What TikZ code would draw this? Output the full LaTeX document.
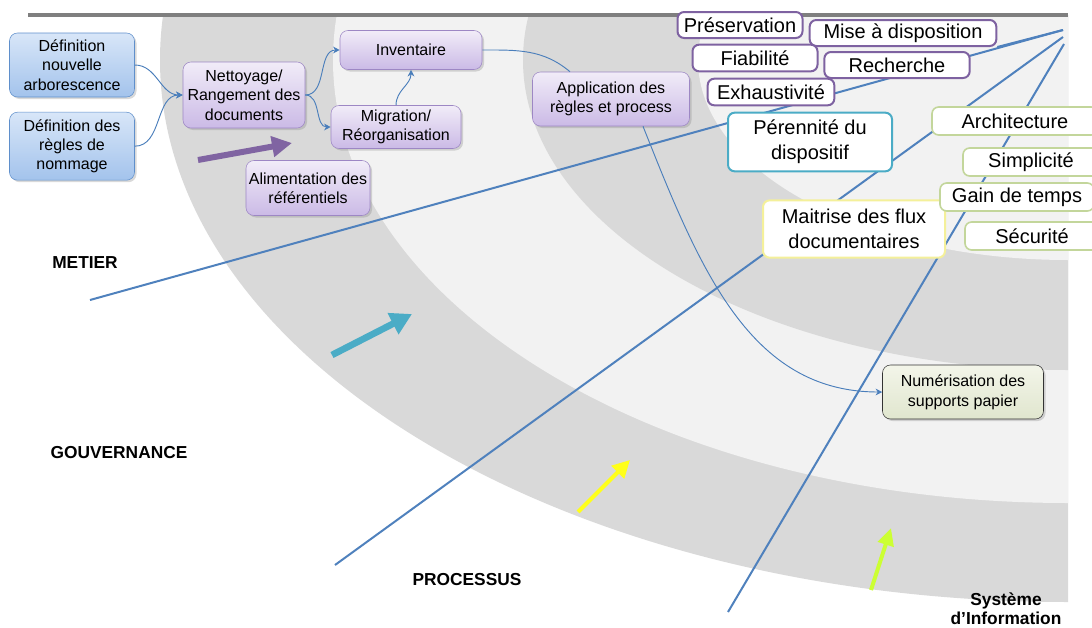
\documentclass[tikz,border=0pt]{standalone}
\usepackage{fontspec}
\setmainfont{Liberation Sans}
\usepackage{xcolor}
\usepackage{tikz}
\usetikzlibrary{positioning,calc}
\usetikzlibrary{shadows,arrows.meta}

\definecolor{bandDark}{HTML}{D9D9D9}
\definecolor{bandLight}{HTML}{F2F2F2}
\definecolor{topGrey}{HTML}{7F7F7F}
\definecolor{axisBlue}{HTML}{4F81BD}
\definecolor{linkBlue}{HTML}{4A7EBB}
\definecolor{blueTop}{HTML}{D8E6F8}
\definecolor{blueBottom}{HTML}{A3C3EC}
\definecolor{blueBorder}{HTML}{5F8FCB}
\definecolor{procTop}{HTML}{F1ECF8}
\definecolor{procBottom}{HTML}{CBBAE6}
\definecolor{procBorder}{HTML}{9D87C4}
\definecolor{numTop}{HTML}{F3F5E9}
\definecolor{numBottom}{HTML}{E0E6CE}
\definecolor{qualPurple}{HTML}{7E62A1}
\definecolor{qualTeal}{HTML}{4BACC6}
\definecolor{qualYellow}{HTML}{F4F09A}
\definecolor{qualGreen}{HTML}{C3D69B}
\definecolor{arrPurple}{HTML}{8064A2}
\definecolor{arrCyan}{HTML}{4BACC6}
\definecolor{arrYellow}{HTML}{FFFF1A}
\definecolor{arrGreen}{HTML}{CCFF33}

\tikzstyle{bluebox} = [draw=blueBorder, rounded corners=6pt, top color=blueTop, bottom color=blueBottom, align=center, inner sep=1pt, font=\fontsize{12}{14.5}\selectfont, drop shadow={shadow xshift=1.5pt, shadow yshift=-1.5pt, opacity=0.3}]
\tikzstyle{procbox} = [draw=procBorder, rounded corners=6pt, top color=procTop, bottom color=procBottom, align=center, inner sep=1pt, font=\fontsize{12}{14.5}\selectfont, drop shadow={shadow xshift=1.5pt, shadow yshift=-1.5pt, opacity=0.3}]
\tikzstyle{qualbox} = [draw=qualPurple, line width=1.5pt, rounded corners=5pt, fill=white, align=center, inner sep=1pt, font=\fontsize{15}{19}\selectfont]
\tikzstyle{link} = [-{Stealth[length=5pt,width=5pt]}, line width=0.7pt, draw=linkBlue, color=linkBlue]
\tikzstyle{axis} = [line width=1.5pt, draw=axisBlue]
\tikzstyle{sector} = [font=\fontsize{13}{14.5}\selectfont\bfseries, align=center]

\begin{document}
\begin{tikzpicture}[x=0.75pt, y=-0.75pt]
	\useasboundingbox (0,0) rectangle (1092,628);

	%Bands
	\begin{scope}
		\clip (0,15) rectangle (1068,628);
		\fill[bandDark] (1068,60) ellipse [x radius=908, y radius=542];
		\fill[bandLight] (1068,60) ellipse [x radius=735, y radius=443];
		\fill[bandDark] (1068,60) ellipse [x radius=545, y radius=310];
		\fill[bandLight] (1068,60) ellipse [x radius=370, y radius=200];
	\end{scope}
	\draw[line width=3.5pt, topGrey] (28,15) -- (1068,15);

	%Axes
	\coordinate (hubA) at (1063,30);
	\coordinate (hubB) at (1063,37);
	\coordinate (hubC) at (1064,44);
	\coordinate (metierEnd) at (90,300);
	\coordinate (gouvEnd) at (335,565);
	\coordinate (procEnd) at (728,612);
	\draw[axis] (hubA) -- (metierEnd);
	\draw[axis] (hubB) -- (gouvEnd);
	\draw[axis] (hubC) -- (procEnd);

	%Nodes
	\node[bluebox, minimum width=93.75pt, minimum height=48pt] (defarbo) at (72,65) {Définition\\nouvelle\\arborescence};
	\node[bluebox, minimum width=93.75pt, minimum height=51pt, below=11pt of defarbo] (defregles) {Définition des\\règles de\\nommage};
	\node[procbox, minimum width=91.5pt, minimum height=49.5pt] (nettoyage) at (244,95) {Nettoyage/\\Rangement des\\documents};
	\node[procbox, minimum width=106.5pt, minimum height=29.25pt] (inventaire) at (411,50) {Inventaire};
	\node[procbox, minimum width=97.5pt, minimum height=32.25pt] (migration) at (396,127) {Migration/\\Réorganisation};
	\node[procbox, minimum width=93pt, minimum height=41.25pt] (alimentation) at (308,188) {Alimentation des\\référentiels};
	\node[procbox, minimum width=117.75pt, minimum height=40.5pt] (application) at (611,99) {Application des\\règles et process};
	\node[procbox, draw=black!80, top color=numTop, bottom color=numBottom, minimum width=120.75pt, minimum height=40.5pt, font=\fontsize{12}{15}\selectfont] (numerisation) at (963,392) {Numérisation des\\supports papier};

	\node[qualbox, minimum width=93.75pt, minimum height=19.5pt] (preservation) at (740,25) {Préservation};
	\node[qualbox, minimum width=140pt, minimum height=19.5pt] (mise) at (903,33) {Mise à disposition};
	\node[qualbox, minimum width=93.75pt, minimum height=20pt] (fiabilite) at (755,58) {Fiabilité};
	\node[qualbox, minimum width=109pt, minimum height=19.5pt] (recherche) at (897,65) {Recherche};
	\node[qualbox, minimum width=95pt, minimum height=20pt] (exhaustivite) at (771,92) {Exhaustivité};
	\node[qualbox, draw=qualTeal, minimum width=123pt, minimum height=44pt] (perennite) at (810,142) {Pérennité du\\dispositif};
	\node[qualbox, draw=qualYellow, minimum width=136.5pt, minimum height=43pt] (maitrise) at (854,229) {Maitrise des flux\\documentaires};
	\node[qualbox, draw=qualGreen, line width=1.2pt, minimum width=124.5pt, minimum height=21pt] (architecture) at (1015,121) {Architecture};
	\node[qualbox, draw=qualGreen, line width=1.2pt, minimum width=102pt, minimum height=21pt] (simplicite) at (1031,162) {Simplicité};
	\node[qualbox, draw=qualGreen, line width=1.2pt, minimum width=115.5pt, minimum height=21pt] (gain) at (1017,197) {Gain de temps};
	\node[qualbox, draw=qualGreen, line width=1.2pt, minimum width=100.5pt, minimum height=21pt] (securite) at (1032,236) {Sécurité};

	\node[sector] (metier) at (85,263) {METIER};
	\node[sector] (gouvernance) at (119,453) {GOUVERNANCE};
	\node[sector] (processus) at (467,580) {PROCESSUS};
	\node[sector] (si) at (1006,609) {Système\\d’Information};

	%Lines
	\draw[axis] (hubA) -- (mise.south east);
	\draw[link] (defarbo.east) to[out=0, in=180] (nettoyage.west);
	\draw[link] (defregles.east) to[out=0, in=180] (nettoyage.west);
	\draw[link] (nettoyage.east) to[out=0, in=180] (inventaire.west);
	\draw[link] (nettoyage.east) to[out=0, in=180] (migration.west);
	\draw[link] (migration.north) to[out=90, in=-90] (inventaire.south);
	\draw[line width=0.7pt, linkBlue] (inventaire.east) to[out=0, in=140] ($(application.north)+(-41,0)$);
	\draw[link] ($(application.south)+(32,0)$) .. controls (700,270) and (750,392) .. (numerisation.west);

	%Arrows
	\coordinate (purpleTail) at (198,160);
	\coordinate (purpleTip) at (292,143);
	\coordinate (cyanTail) at (332,355);
	\coordinate (cyanTip) at (412,314);
	\coordinate (yellowTail) at (578,512);
	\coordinate (yellowTip) at (630,460);
	\coordinate (greenTail) at (871,590);
	\coordinate (greenTip) at (891,528);
	\draw[arrPurple, line width=4.5pt, -{Triangle[length=15pt,width=15pt]}] (purpleTail) -- (purpleTip);
	\draw[arrCyan, line width=5pt, -{Triangle[length=16pt,width=17pt]}] (cyanTail) -- (cyanTip);
	\draw[arrYellow, line width=3pt, -{Triangle[length=13pt,width=13pt]}] (yellowTail) -- (yellowTip);
	\draw[arrGreen, line width=3pt, -{Triangle[length=13pt,width=12pt]}] (greenTail) -- (greenTip);
\end{tikzpicture}
\end{document}
